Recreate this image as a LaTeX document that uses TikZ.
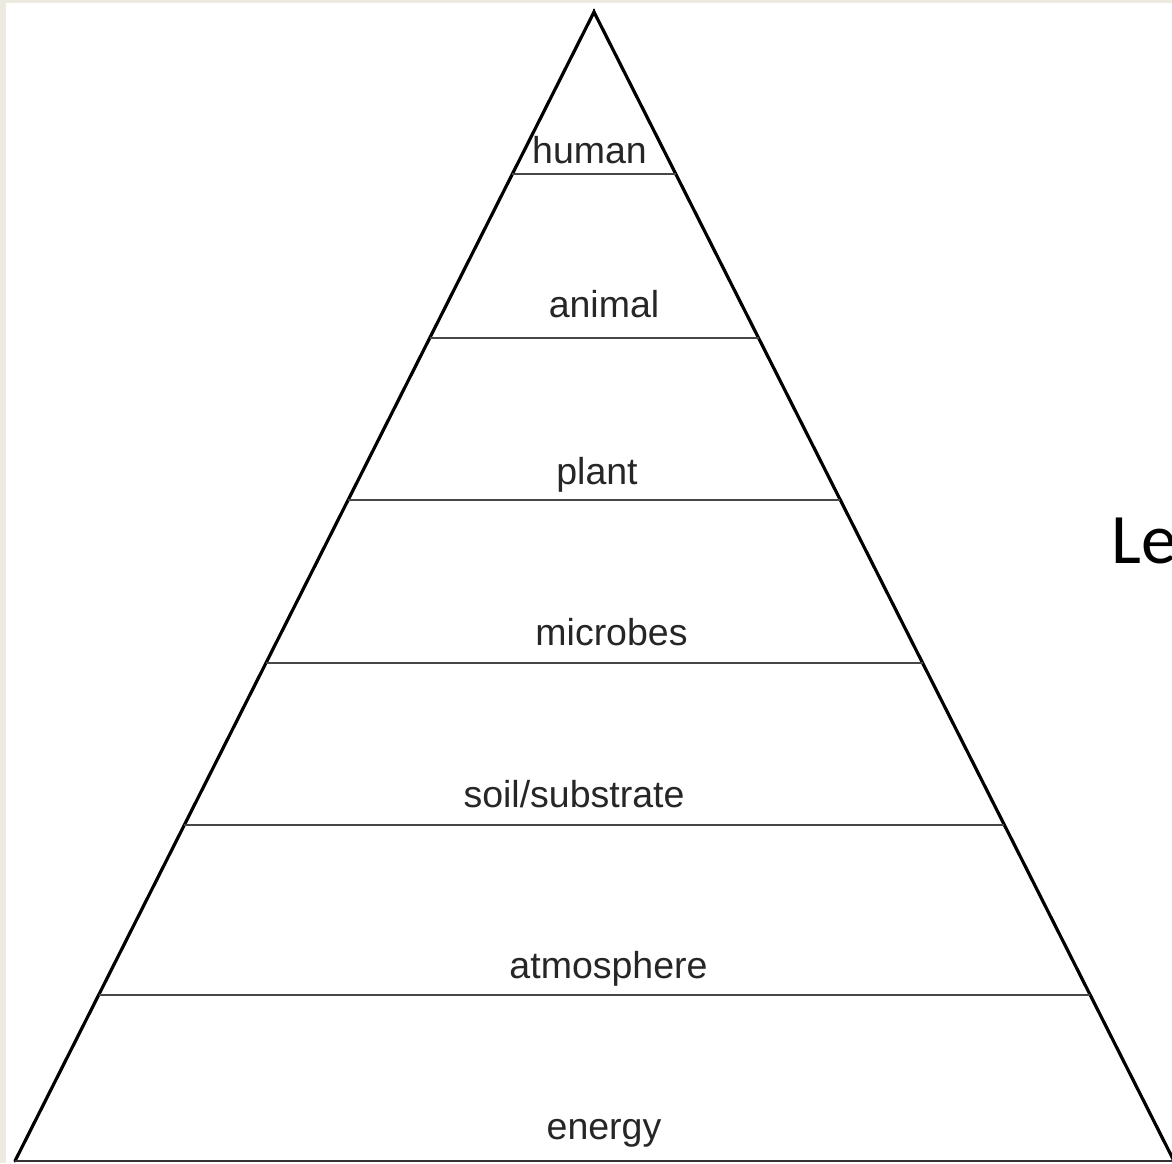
\documentclass[tikz,border=0pt]{standalone}
\usepackage{fontspec}
\usetikzlibrary{calc}
\setmainfont{Liberation Sans}
\newfontfamily\titlefont{Carlito}
\begin{document}
\begin{tikzpicture}[x=1pt,y=-1pt,
  side/.style={line width=3.2pt,black,line cap=round},
  tier/.style={line width=2.4pt,black!72},
  lbl/.style={anchor=base,inner sep=0pt,text=black!85,font=\fontsize{37.5}{42}\selectfont}]
  \definecolor{frame}{HTML}{EDEBE0}
  % page with its beige frame strips
  \useasboundingbox (0,0) rectangle (1172,1163);
  \fill[frame] (0,0) rectangle (1172,1163);
  \fill[white] (6,3) rectangle (1172,1163);

  % outline of the pyramid
  \coordinate (apex) at (594,12);
  \coordinate (bl) at (15,1161);
  \coordinate (br) at (1174,1161);
  \draw[side] (bl) -- (apex) -- (br);
  \draw[line width=2.4pt] (594,9) -- (594,14);
  \draw[line width=2.8pt,black!80] (bl) -- (br);

  % tier dividers
  \foreach \y in {174,338,500,663,825,995}{
    \draw[tier] ($(apex)!{(\y-12)/1149}!(bl)$) -- ($(apex)!{(\y-12)/1149}!(br)$);
  }

  % tier labels
  \node[lbl] (human) at (589.5,163) {human};
  \node[lbl] (animal) at (604,317) {animal};
  \node[lbl] (plant) at (597,484) {plant};
  \node[lbl] (microbes) at (611.5,645) {microbes};
  \node[lbl] (soil) at (574,807) {soil/substrate};
  \node[lbl] (atmosphere) at (608.5,978) {atmosphere};
  \node[lbl] (energy) at (604,1139) {energy};

  % heading at the right edge
  \node[anchor=base west,inner sep=0pt,font=\titlefont\fontsize{71}{80}\selectfont] (heading) at (1111,563) {Le};
\end{tikzpicture}
\end{document}
